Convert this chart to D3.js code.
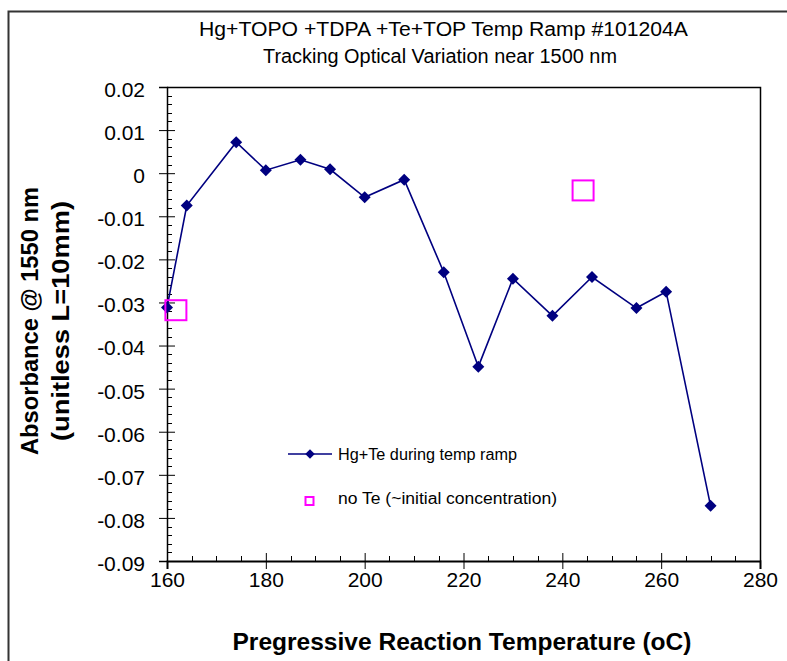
<!DOCTYPE html>
<html>
<head>
<meta charset="utf-8">
<script src="https://cdn.jsdelivr.net/npm/d3@7"></script>
<style>
  body { margin: 0; background: #fff; }
  text { font-family: "Liberation Sans", Arial, sans-serif; }
</style>
</head>
<body>
<div id="chart"></div>
<script>
// Hg+Te during temp ramp
const temps = [160, 164, 174, 180, 187, 193, 200, 208, 216, 223, 230, 238, 246, 255, 261, 270]
const absorb = [-0.0312, -0.0075, 0.0072, 0.0007, 0.0031, 0.0009, -0.0056, -0.0015, -0.0230, -0.0449, -0.0245, -0.0331, -0.0241, -0.0313, -0.0275, -0.0772]

// no Te (~initial concentration)
const noTeTemps = [161.8, 244.2]
const noTeAbsorb = [-0.0318, -0.0040]

const xTicks = [160, 180, 200, 220, 240, 260, 280]
const yTicks = [0.02, 0.01, 0, -0.01, -0.02, -0.03, -0.04, -0.05, -0.06, -0.07, -0.08, -0.09]

const titleLines = ['Hg+TOPO +TDPA +Te+TOP Temp Ramp #101204A', 'Tracking Optical Variation near 1500 nm']
const yTitleLines = ['Absorbance @ 1550 nm', '(unitless L=10mm)']
const xTitle = 'Pregressive Reaction Temperature (oC)'
const legendLabels = ['Hg+Te during temp ramp', 'no Te (~initial concentration)']

const width = 787, height = 661
const plot = { left: 167, right: 760, top: 87, bottom: 561 }
const navy = '#000080', magenta = '#ff00ff'

const svg = d3.select('#chart').append('svg')
  .attr('width', width)
  .attr('height', height)

// outer frame
svg.append('path')
  .attr('d', `M8.5,${height + 2}V11.5H${width + 2}`)
  .attr('fill', 'none')
  .attr('stroke', '#333')
  .attr('stroke-width', 2)

const x = d3.scaleLinear().domain([160, 280]).range([plot.left, plot.right])
const y = d3.scaleLinear().domain([-0.09, 0.02]).range([plot.bottom, plot.top])

// title
const titleLayout = [{ x: 443.5, y: 36, len: 489 }, { x: 440, y: 62.5, len: 354 }]
svg.append('g')
  .attr('font-size', 19.5)
  .attr('text-anchor', 'middle')
  .selectAll('text')
  .data(titleLines).enter()
  .append('text')
    .attr('x', (d, i) => titleLayout[i].x)
    .attr('y', (d, i) => titleLayout[i].y)
    .attr('textLength', (d, i) => titleLayout[i].len)
    .attr('lengthAdjust', 'spacingAndGlyphs')
    .text(d => d)

// plot border (top + right)
svg.append('path')
  .attr('d', `M${plot.left},${plot.top + 0.5}H${plot.right + 0.5}V${plot.bottom}`)
  .attr('fill', 'none')
  .attr('stroke', '#000')
  .attr('stroke-width', 1.5)

// minor ticks
const yMinor = d3.range(-0.09, 0.0201, 0.002).filter(v => Math.abs(Math.round(v * 100) - v * 100) > 1e-6)
svg.append('g')
  .attr('stroke', '#000')
  .selectAll('line')
  .data(yMinor).enter()
  .append('line')
    .attr('x1', plot.left).attr('x2', plot.left + 5)
    .attr('y1', d => Math.round(y(d)) + 0.5).attr('y2', d => Math.round(y(d)) + 0.5)

const xMinor = d3.range(165, 280, 5).filter(v => v % 20 !== 0)
svg.append('g')
  .attr('stroke', '#000')
  .selectAll('line')
  .data(xMinor).enter()
  .append('line')
    .attr('x1', d => Math.round(x(d)) + 0.5).attr('x2', d => Math.round(x(d)) + 0.5)
    .attr('y1', plot.bottom).attr('y2', plot.bottom - 5)

// y axis
const yAxis = svg.append('g')
  .attr('transform', `translate(${plot.left},0)`)
  .call(d3.axisLeft(y).tickValues(yTicks).tickSize(8).tickPadding(14)
    .tickFormat(d => d3.format('.2~f')(d).replace('−', '-')))
yAxis.select('.domain').attr('stroke-width', 1.5)
yAxis.selectAll('.tick line').clone().attr('x2', 8)
yAxis.selectAll('text')
  .attr('font-size', 21)
  .attr('dy', '0.45em')
  .attr('fill', '#000')
  .style('font-family', '"Liberation Sans", Arial, sans-serif')

// x axis
const xAxis = svg.append('g')
  .attr('transform', `translate(0,${plot.bottom})`)
  .call(d3.axisBottom(x).tickValues(xTicks).tickSize(8).tickPadding(3).tickFormat(d3.format('d')))
xAxis.select('.domain').attr('stroke-width', 2)
xAxis.selectAll('.tick line').clone().attr('y2', -8)
xAxis.selectAll('text')
  .attr('font-size', 21)
  .attr('fill', '#000')
  .style('font-family', '"Liberation Sans", Arial, sans-serif')

// axis titles
svg.append('text')
  .attr('x', 462)
  .attr('y', 650)
  .attr('text-anchor', 'middle')
  .attr('font-size', 24)
  .attr('font-weight', 'bold')
  .attr('textLength', 459)
  .attr('lengthAdjust', 'spacingAndGlyphs')
  .text(xTitle)

svg.append('g')
  .attr('transform', 'translate(0,321) rotate(-90)')
  .attr('text-anchor', 'middle')
  .attr('font-size', 24)
  .attr('font-weight', 'bold')
  .selectAll('text')
  .data(yTitleLines).enter()
  .append('text')
    .attr('x', 0)
    .attr('y', (d, i) => 38 + i * 31)
    .attr('textLength', (d, i) => [268, 240][i])
    .attr('lengthAdjust', 'spacingAndGlyphs')
    .text(d => d)

// series line
const pts = temps.map((t, i) => [t, absorb[i]])
svg.append('path')
  .datum(pts)
  .attr('fill', 'none')
  .attr('stroke', navy)
  .attr('stroke-width', 1.6)
  .attr('d', d3.line().x(d => x(d[0])).y(d => y(d[1])))

svg.append('g')
  .attr('fill', navy)
  .selectAll('path')
  .data(pts).enter()
  .append('path')
    .attr('transform', d => `translate(${x(d[0])},${y(d[1])}) rotate(45)`)
    .attr('d', d3.symbol().type(d3.symbolSquare).size(72))

// no Te squares
const sq = noTeTemps.map((t, i) => [t, noTeAbsorb[i]])
svg.append('g')
  .attr('fill', 'none')
  .attr('stroke', magenta)
  .attr('stroke-width', 2)
  .selectAll('rect')
  .data(sq).enter()
  .append('rect')
    .attr('x', d => x(d[0]) - 10.5)
    .attr('y', d => y(d[1]) - 10)
    .attr('width', 21)
    .attr('height', 20)

// legend
const legend = svg.append('g').attr('font-size', 16)
legend.append('line')
  .attr('x1', 288).attr('x2', 332)
  .attr('y1', 454).attr('y2', 454)
  .attr('stroke', navy).attr('stroke-width', 1.6)
legend.append('path')
  .attr('transform', 'translate(310,454) rotate(45)')
  .attr('fill', navy)
  .attr('d', d3.symbol().type(d3.symbolSquare).size(45))
legend.append('rect')
  .attr('x', 305.5).attr('y', 497)
  .attr('width', 8).attr('height', 8)
  .attr('fill', 'none').attr('stroke', magenta).attr('stroke-width', 2)
legend.selectAll('text.lbl')
  .data(legendLabels).enter()
  .append('text')
    .attr('class', 'lbl')
    .attr('x', 338)
    .attr('y', (d, i) => [459.5, 504][i])
    .attr('textLength', (d, i) => [179, 219][i])
    .attr('lengthAdjust', 'spacingAndGlyphs')
    .text(d => d)
</script>
</body>
</html>
